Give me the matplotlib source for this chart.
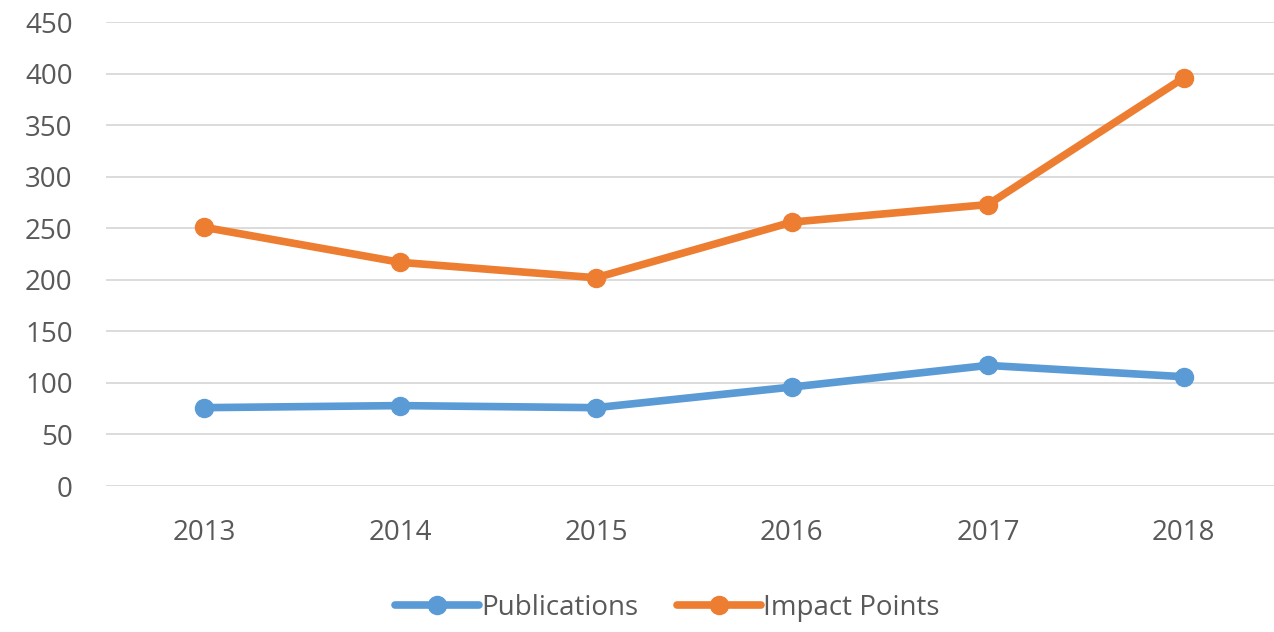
import matplotlib.pyplot as plt

years = ["2013", "2014", "2015", "2016", "2017", "2018"]
publications = [76, 78, 76, 96, 117, 106]
impact_points = [251, 217, 202, 256, 273, 396]
y_ticks = [0, 50, 100, 150, 200, 250, 300, 350, 400, 450]

plt.rcParams['font.family'] = ['Open Sans', 'DejaVu Sans']

fig = plt.figure(figsize=(12.74, 6.32), dpi=100)
ax = fig.add_axes([0.0832, 0.231, 0.9168, 0.734])

x = range(len(years))
ax.plot(x, publications, color="#5B9BD5", lw=5.5, marker="o", ms=13,
        label="Publications", solid_capstyle="round")
ax.plot(x, impact_points, color="#ED7D31", lw=5.5, marker="o", ms=13,
        label="Impact Points", solid_capstyle="round")

ax.set_xlim(-0.5, 5.46)
ax.set_ylim(0, 450)
ax.set_yticks(y_ticks)
ax.set_xticks(list(x))
ax.set_xticklabels(years)
ax.grid(axis="y", color="#D9D9D9", lw=1.3)
ax.set_axisbelow(True)
for s in ax.spines.values():
    s.set_visible(False)
ax.tick_params(length=0, labelsize=20, colors="#595959")
ax.tick_params(axis="y", pad=24)
ax.tick_params(axis="x", pad=24)

leg = fig.legend(loc="center", bbox_to_anchor=(0.524, 0.038), ncol=2, frameon=False,
                 fontsize=20, handlelength=3.0, columnspacing=1.4, handletextpad=0.1)
for t in leg.get_texts():
    t.set_color("#595959")

fig.savefig("out.png", dpi=100)
